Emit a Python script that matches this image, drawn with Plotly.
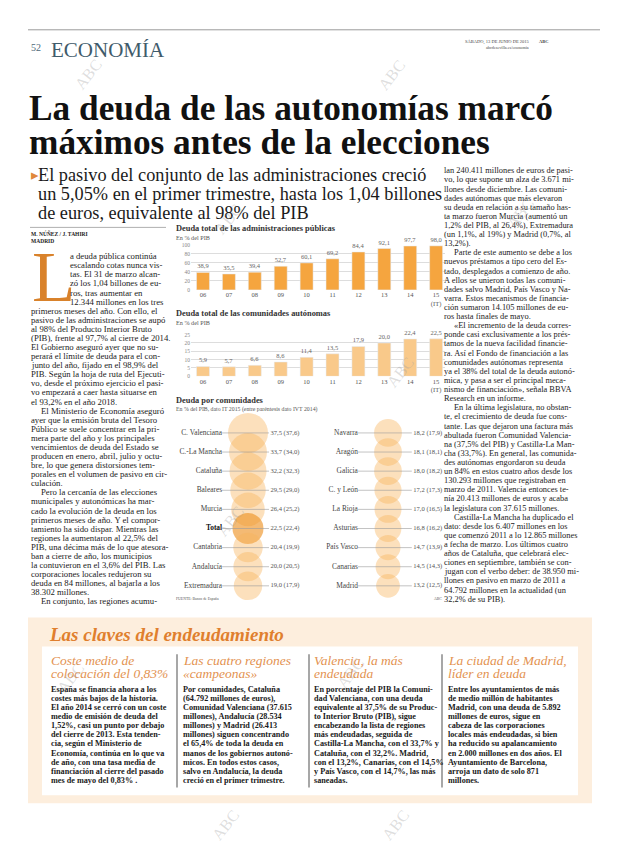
import math
import plotly.graph_objects as go

W, H = 620, 846

# ---------------- data ----------------
years = ["06", "07", "08", "09", "10", "11", "12", "13", "14", "15"]
year_ticks = ["06", "07", "08", "09", "10", "11", "12", "13", "14", "15<br>(IT)"]
deuda_publica = [38.9, 35.5, 39.4, 52.7, 60.1, 69.2, 84.4, 92.1, 97.7, 98.0]
deuda_ccaa = [5.9, 5.7, 6.6, 8.6, 11.4, 13.5, 17.9, 20.0, 22.4, 22.5]
ticks_publica = [0, 20, 40, 60, 80, 100]
ticks_ccaa = [0, 5, 10, 15, 20, 25]

ccaa_izq = ["C. Valenciana", "C.-La Mancha", "Cataluña", "Baleares", "Murcia",
            "Total", "Cantabria", "Andalucía", "Extremadura"]
dato_izq = [37.5, 33.7, 32.2, 29.5, 26.4, 22.5, 20.4, 20.0, 19.0]
previo_izq = [37.6, 34.0, 32.3, 29.0, 25.2, 22.4, 19.9, 20.5, 17.9]
ccaa_der = ["Navarra", "Aragón", "Galicia", "C. y León", "La Rioja", "Asturias",
            "País Vasco", "Canarias", "Madrid"]
dato_der = [18.2, 18.1, 18.0, 17.2, 17.0, 16.8, 14.7, 14.5, 13.2]
previo_der = [17.9, 18.1, 18.2, 17.3, 16.5, 16.2, 13.9, 14.3, 12.5]

SERIF = "Liberation Serif"
ORANGE = "#F5A53F"
ORANGE_LIGHT = "#F9C98A"
GRAY = "#666666"


def fx(x):
    return x / W


def fy(y):
    return 1 - y / H


def es(v):
    return f"{v:.1f}".replace(".", ",")


fig = go.Figure()
annotations = []
shapes = []


def txt(x, y, text, size=8, color="#222", family=SERIF, xanchor="left",
        yanchor="middle", angle=0):
    annotations.append(dict(x=fx(x), y=fy(y), xref="paper", yref="paper",
                            text=text, showarrow=False, xanchor=xanchor,
                            yanchor=yanchor, textangle=angle, borderpad=0,
                            font=dict(family=family, size=size, color=color)))


def block(lines, x, y0, step, size, color="#222", indent=10, bold=False):
    for i, line in enumerate(lines):
        xx = x
        if line.startswith("\t"):
            line = line[1:]
            xx = x + indent
        t = f"<b>{line}</b>" if bold else line
        txt(xx, y0 + i * step, t, size=size, color=color)


def line(x0, y0, x1, y1, color="#999", width=1, dash=None):
    shapes.append(dict(type="line", xref="paper", yref="paper",
                       x0=fx(x0), y0=fy(y0), x1=fx(x1), y1=fy(y1),
                       line=dict(color=color, width=width, dash=dash), layer="below"))


def rect(x0, y0, x1, y1, color):
    shapes.append(dict(type="rect", xref="paper", yref="paper",
                       x0=fx(x0), y0=fy(y0), x1=fx(x1), y1=fy(y1),
                       line=dict(width=0), fillcolor=color, layer="below"))


# ---------------- header ----------------
line(28, 27, 600, 27, "#9a9a9a", 1)
txt(30, 45, "52", size=10, color="#4d6878")
txt(50, 47, "ECONOMÍA", size=21, color="#3f5b6b")
txt(530, 39, "SÁBADO, 13 DE JUNIO DE 2015", size=4.5, color="#444", xanchor="right")
txt(538, 39, "<b>ABC</b>", size=4.5, color="#444")
txt(530, 45, "abcdesevilla.es/economia", size=4.2, color="#444", xanchor="right")

txt(28, 106, "<b>La deuda de las autonomías marcó</b>", size=35.3, color="#111")
txt(28, 140, "<b>máximos antes de la elecciones</b>", size=35.3, color="#111")

txt(30, 173, "▸", size=15, color="#E0873A")
sub = ["El pasivo del conjunto de las administraciones creció",
       "un 5,05% en el primer trimestre, hasta los 1,04 billones",
       "de euros, equivalente al 98% del PIB"]
block(sub, 37, 173, 19.5, 18.3, color="#1a1a1a")

line(30, 226, 166, 226, "#9a9a9a", 0.8)
txt(30, 232, "<b>M. NÚÑEZ / J. TAHIRI</b>", size=5.5, color="#222")
txt(30, 240, "<b>MADRID</b>", size=5.5, color="#222")

# ---------------- body text ----------------
txt(31, 276, "L", size=71, color="#D9822B")
left_drop = ["a deuda pública continúa",
             "escalando cotas nunca vis-",
             "tas. El 31 de marzo alcan-",
             "zó los 1,04 billones de eu-",
             "ros, tras aumentar en",
             "12.344 millones en los tres"]
block(left_drop, 69, 255, 9.15, 8.7)
left_rest = ["primeros meses del año. Con ello, el",
             "pasivo de las administraciones se aupó",
             "al 98% del Producto Interior Bruto",
             "(PIB), frente al 97,7% al cierre de 2014.",
             "El Gobierno aseguró ayer que no su-",
             "perará el límite de deuda para el con-",
             "junto del año, fijado en el 98,9% del",
             "PIB. Según la hoja de ruta del Ejecuti-",
             "vo, desde el próximo ejercicio el pasi-",
             "vo empezará a caer hasta situarse en",
             "el 93,2% en el año 2018.",
             "\tEl Ministerio de Economía aseguró",
             "ayer que la emisión bruta del Tesoro",
             "Público se suele concentrar en la pri-",
             "mera parte del año y los principales",
             "vencimientos de deuda del Estado se",
             "producen en enero, abril, julio y octu-",
             "bre, lo que genera distorsiones tem-",
             "porales en el volumen de pasivo en cir-",
             "culación.",
             "\tPero la cercanía de las elecciones",
             "municipales y autonómicas ha mar-",
             "cado la evolución de la deuda en los",
             "primeros meses de año. Y el compor-",
             "tamiento ha sido dispar. Mientras las",
             "regiones la aumentaron al 22,5% del",
             "PIB, una décima más de lo que atesora-",
             "ban a cierre de año, los municipios",
             "la contuvieron en el 3,6% del PIB. Las",
             "corporaciones locales redujeron su",
             "deuda en 84 millones, al bajarla a los",
             "38.302 millones.",
             "\tEn conjunto, las regiones acumu-"]
block(left_rest, 30, 255 + 6 * 9.15, 9.15, 8.7)

right_col = ["lan 240.411 millones de euros de pasi-",
             "vo, lo que supone un alza de 3.671 mi-",
             "llones desde diciembre. Las comuni-",
             "dades autónomas que más elevaron",
             "su deuda en relación a su tamaño has-",
             "ta marzo fueron Murcia (aumentó un",
             "1,2% del PIB, al 26,4%), Extremadura",
             "(un 1,1%, al 19%) y Madrid (0,7%, al",
             "13,2%).",
             "\tParte de este aumento se debe a los",
             "nuevos préstamos a tipo cero del Es-",
             "tado, desplegados a comienzo de año.",
             "A ellos se unieron todas las comuni-",
             "dades salvo Madrid, País Vasco y Na-",
             "varra. Estos mecanismos de financia-",
             "ción sumaron 14.105 millones de eu-",
             "ros hasta finales de mayo.",
             "\t«El incremento de la deuda corres-",
             "ponde casi exclusivamente a los prés-",
             "tamos de la nueva facilidad financie-",
             "ra. Así el Fondo de financiación a las",
             "comunidades autónomas representa",
             "ya el 38% del total de la deuda autonó-",
             "mica, y pasa a ser el principal meca-",
             "nismo de financiación», señala BBVA",
             "Research en un informe.",
             "\tEn la última legislatura, no obstan-",
             "te, el crecimiento de deuda fue cons-",
             "tante. Las que dejaron una factura más",
             "abultada fueron Comunidad Valencia-",
             "na (37,5% del PIB) y Castilla-La Man-",
             "cha (33,7%). En general, las comunida-",
             "des autónomas engordaron su deuda",
             "un 84% en estos cuatro años desde los",
             "130.293 millones que registraban en",
             "marzo de 2011. Valencia entonces te-",
             "nía 20.413 millones de euros y acaba",
             "la legislatura con 37.615 millones.",
             "\tCastilla-La Mancha ha duplicado el",
             "dato: desde los 6.407 millones en los",
             "que comenzó 2011 a lo 12.865 millones",
             "a fecha de marzo. Los últimos cuatro",
             "años de Cataluña, que celebrará elec-",
             "ciones en septiembre, también se con-",
             "jugan con el verbo deber: de 38.950 mi-",
             "llones en pasivo en marzo de 2011 a",
             "64.792 millones en la actualidad (un",
             "32,2% de su PIB)."]
block(right_col, 443, 169, 9.18, 8.4)

# ---------------- chart titles ----------------
txt(175, 227, "<b>Deuda total de las administraciones públicas</b>", size=8.4, color="#333")
txt(175, 236, "En % del PIB", size=6.2, color="#555")
txt(175, 313, "<b>Deuda total de las comunidades autónomas</b>", size=8.4, color="#333")
txt(175, 322, "En % del PIB", size=6.2, color="#555")
txt(175, 400, "<b>Deuda por comunidades</b>", size=8.4, color="#333")
txt(175, 409, "En % del PIB, dato IT 2015 (entre paréntesis dato IVT 2014)", size=5.8, color="#555")
txt(175, 600, "FUENTE: Banco de España", size=3.8, color="#555")
txt(443, 600, "ABC", size=3.8, color="#555", xanchor="right")

xpos = list(range(len(years)))
X0, X1, C0, STEP = 191, 445, 203, 25.9
xr = [(X0 - C0) / STEP, (X1 - C0) / STEP]

fig.add_trace(go.Bar(x=xpos, y=deuda_publica, width=0.5, marker_color=ORANGE,
                     text=[es(v) for v in deuda_publica], textposition="outside",
                     textfont=dict(family=SERIF, size=6.5, color=GRAY),
                     cliponaxis=False, xaxis="x", yaxis="y", hoverinfo="skip"))
fig.add_trace(go.Bar(x=xpos, y=deuda_ccaa, width=0.5, marker_color=ORANGE_LIGHT,
                     text=[es(v) for v in deuda_ccaa], textposition="outside",
                     textfont=dict(family=SERIF, size=6.5, color=GRAY),
                     cliponaxis=False, xaxis="x2", yaxis="y2", hoverinfo="skip"))

axis_common_x = dict(range=xr, tickvals=xpos, ticktext=year_ticks, showgrid=False,
                     zeroline=False, showline=False, ticks="",
                     tickfont=dict(family=SERIF, size=6.5, color="#555"))
axis_common_y = dict(showgrid=True, gridcolor="#dddddd", gridwidth=0.6, zeroline=False,
                     showline=False, ticks="", tickfont=dict(family=SERIF, size=5.5, color="#888"))

# ---------------- bubbles ----------------
CX0, CSTEP = 248, 140
RY0, RSTEP = 433, 19.25
BX = [(170 - CX0) / CSTEP, (450 - CX0) / CSTEP]
BY = [(600 - RY0) / RSTEP, (420 - RY0) / RSTEP]
rows = list(range(len(ccaa_izq)))


def diam(v):
    return 40 * math.sqrt(v / max(dato_izq))


for col, names, vals, prev in ((0, ccaa_izq, dato_izq, previo_izq),
                              (1, ccaa_der, dato_der, previo_der)):
    colors = ["rgba(238,145,35,0.9)" if n == "Total" else "rgba(248,178,90,0.58)" for n in names]
    fig.add_trace(go.Scatter(x=[col] * len(rows), y=rows, mode="markers",
                             marker=dict(size=[diam(v) for v in vals], color=colors,
                                         line=dict(width=0)),
                             xaxis="x3", yaxis="y3", hoverinfo="skip", cliponaxis=False))
    lx, ly = [], []
    l0 = col - 0.185 if col == 0 else col - 0.215
    l1 = col + 0.15 if col == 0 else col + 0.17
    for r in rows:
        lx += [l0, l1, None]
        ly += [r, r, None]
    fig.add_trace(go.Scatter(x=lx, y=ly, mode="lines", line=dict(color="#9a9a9a", width=0.6),
                             xaxis="x3", yaxis="y3", hoverinfo="skip"))
    labels = [f"<b>{n}</b>" if n == "Total" else n for n in names]
    fig.add_trace(go.Scatter(x=[l0] * len(rows), y=rows, mode="text", text=labels,
                             textposition="middle left",
                             textfont=dict(family=SERIF, size=7.4,
                                           color=["#111" if n == "Total" else "#444" for n in names]),
                             xaxis="x3", yaxis="y3", hoverinfo="skip", cliponaxis=False))
    fig.add_trace(go.Scatter(x=[l1 + 0.01] * len(rows), y=rows, mode="text",
                             text=[f"{es(a)} ({es(b)})" for a, b in zip(vals, prev)],
                             textposition="middle right",
                             textfont=dict(family=SERIF, size=6.6, color="#555"),
                             xaxis="x3", yaxis="y3", hoverinfo="skip", cliponaxis=False))

# ---------------- bottom box ----------------
rect(28, 619, 592, 806, "#FDEEDD")
rect(42, 648, 578, 798, "#FFFFFF")
txt(48, 636, "<b><i>Las claves del endeudamiento</i></b>", size=19, color="#E07F2E")
for xd in (177, 309, 442):
    line(xd, 656, xd, 790, "#8a8a8a", 1.5)

HEAD_C = "#E39250"
cols = [
    (50, ["Coste medio de", "colocación del 0,83%"],
     ["España se financia ahora a los",
      "costes más bajos de la historia.",
      "El año 2014 se cerró con un coste",
      "medio de emisión de deuda del",
      "1,52%, casi un punto por debajo",
      "del cierre de 2013. Esta tenden-",
      "cia, según el Ministerio de",
      "Economía, continúa en lo que va",
      "de año, con una tasa media de",
      "financiación al cierre del pasado",
      "mes de mayo del 0,83% ."]),
    (182, ["Las cuatro regiones", "«campeonas»"],
     ["Por comunidades, Cataluña",
      "(64.792 millones de euros),",
      "Comunidad Valenciana (37.615",
      "millones), Andalucía (28.534",
      "millones) y Madrid (26.413",
      "millones) siguen concentrando",
      "el 65,4% de toda la deuda en",
      "manos de los gobiernos autonó-",
      "micos. En todos estos casos,",
      "salvo en Andalucía, la deuda",
      "creció en el primer trimestre."]),
    (313, ["Valencia, la más", "endeudada"],
     ["En porcentaje del PIB la Comuni-",
      "dad Valenciana, con una deuda",
      "equivalente al 37,5% de su Produc-",
      "to Interior Bruto (PIB), sigue",
      "encabezando la lista de regiones",
      "más endeudadas, seguida de",
      "Castilla-La Mancha, con el 33,7% y",
      "Cataluña, con el 32,2%. Madrid,",
      "con el 13,2%, Canarias, con el 14,5%",
      "y País Vasco, con el 14,7%, las más",
      "saneadas."]),
    (447, ["La ciudad de Madrid,", "líder en deuda"],
     ["Entre los ayuntamientos de más",
      "de medio millón de habitantes",
      "Madrid, con una deuda de 5.892",
      "millones de euros, sigue en",
      "cabeza de las corporaciones",
      "locales más endeudadas, si bien",
      "ha reducido su apalancamiento",
      "en 2.000 millones en dos años. El",
      "Ayuntamiento de Barcelona,",
      "arroja un dato de solo 871",
      "millones."]),
]
for x, head, body in cols:
    for i, h in enumerate(head):
        txt(x, 662 + i * 13.5, f"<i>{h}</i>", size=13.5, color=HEAD_C)
    block(body, x, 691, 9.2, 8.2, color="#1a1a1a", bold=True)

# ---------------- watermarks ----------------
for (wx, wy) in [(88, 72), (392, 72), (228, 218), (400, 372), (230, 522),
                 (520, 212), (70, 680), (350, 675), (225, 828), (395, 828)]:
    txt(wx, wy, "ABC", size=16, color="rgba(160,160,160,0.35)", xanchor="center", angle=-52)

fig.update_layout(
    width=W, height=H, margin=dict(l=0, r=0, t=0, b=0),
    paper_bgcolor="white", plot_bgcolor="rgba(0,0,0,0)", showlegend=False,
    xaxis=dict(domain=[fx(X0), fx(X1)], anchor="y", **axis_common_x),
    yaxis=dict(domain=[fy(289), fy(243.7)], range=[0, 100], tickvals=ticks_publica,
               anchor="x", **axis_common_y),
    xaxis2=dict(domain=[fx(X0), fx(X1)], anchor="y2", **axis_common_x),
    yaxis2=dict(domain=[fy(376), fy(334)], range=[0, 25], tickvals=ticks_ccaa,
                anchor="x2", **axis_common_y),
    xaxis3=dict(domain=[fx(170), fx(450)], range=BX, visible=False, anchor="y3"),
    yaxis3=dict(domain=[fy(600), fy(420)], range=BY, visible=False, anchor="x3"),
    annotations=annotations, shapes=shapes,
)

fig.write_html("out.html", config={"displayModeBar": False},
               post_script="document.body.style.margin='0px';")
